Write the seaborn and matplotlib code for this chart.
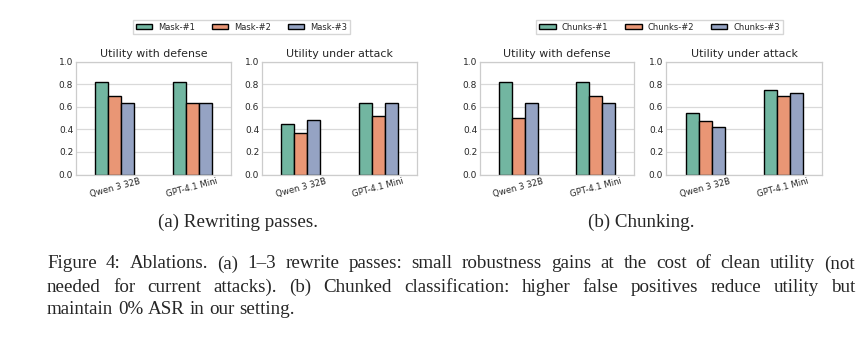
import matplotlib
matplotlib.use("Agg")
import matplotlib.pyplot as plt
import seaborn as sns
import pandas as pd
from matplotlib.patches import Patch

# ---------------- data ----------------
models = ["Qwen 3 32B", "GPT-4.1 Mini"]
mask_labels = ["Mask-#1", "Mask-#2", "Mask-#3"]
chunk_labels = ["Chunks-#1", "Chunks-#2", "Chunks-#3"]

# values per variant (#1, #2, #3), each over models
mask_defense = [[0.815, 0.815], [0.691, 0.630], [0.630, 0.630]]
mask_attack = [[0.444, 0.630], [0.370, 0.519], [0.481, 0.630]]
chunk_defense = [[0.815, 0.815], [0.500, 0.691], [0.630, 0.630]]
chunk_attack = [[0.548, 0.745], [0.472, 0.691], [0.417, 0.718]]

titles = ["Utility with defense", "Utility under attack"]
yticks = [0.0, 0.2, 0.4, 0.6, 0.8, 1.0]
subcaptions = ["(a) Rewriting passes.", "(b) Chunking."]
caption_lines = [
    "Figure 4: Ablations. (a) 1\u20133 rewrite passes: small robustness gains at the cost of clean utility (not",
    "needed for current attacks). (b) Chunked classification: higher false positives reduce utility but",
    "maintain 0% ASR in our setting.",
]


def to_df(values, labels):
    rows = []
    for lab, vals in zip(labels, values):
        for m, v in zip(models, vals):
            rows.append({"model": m, "variant": lab, "value": v})
    return pd.DataFrame(rows)


sns.set_theme(style="whitegrid")
plt.rcParams.update({
    "font.family": ["DejaVu Sans"],
    "axes.edgecolor": "0.8",
    "axes.linewidth": 0.9,
    "grid.linewidth": 0.9,
    "grid.color": "0.85",
})

W, H = 868, 339
fig = plt.figure(figsize=(W / 100, H / 100), dpi=100)
palette = sns.color_palette("Set2", 3)

ax_px = [(76, 155), (262, 155), (480, 154), (666, 156)]
top_px, bot_px = 61.5, 174.5
panels = [
    (mask_defense, mask_labels, titles[0]),
    (mask_attack, mask_labels, titles[1]),
    (chunk_defense, chunk_labels, titles[0]),
    (chunk_attack, chunk_labels, titles[1]),
]

for (x0, w), (vals, labs, title) in zip(ax_px, panels):
    ax = fig.add_axes([x0 / W, (H - bot_px) / H, w / W, (bot_px - top_px) / H])
    df = to_df(vals, labs)
    sns.barplot(data=df, x="model", y="value", hue="variant", palette=palette,
                width=0.5, edgecolor="black", linewidth=1.0, ax=ax, legend=False)
    ax.set_ylim(0, 1.0)
    ax.set_yticks(yticks)
    ax.set_yticklabels([f"{t:.1f}" for t in yticks])
    ax.set_xlabel("")
    ax.set_ylabel("")
    ax.set_title(title, fontsize=7.9, pad=3.5, color="0.15")
    ax.tick_params(axis="y", labelsize=6.5, pad=2, length=0, colors="0.15")
    ax.tick_params(axis="x", labelsize=6.1, pad=1.5, length=0, colors="0.15")
    for lbl in ax.get_xticklabels():
        lbl.set_rotation(15)
        lbl.set_ha("center")

for labs, cx in [(mask_labels, 241.5), (chunk_labels, 659.5)]:
    handles = [Patch(facecolor=sns.desaturate(c, 0.75), edgecolor="black", linewidth=1.0)
               for c in palette]
    fig.legend(handles, labs, loc="center", bbox_to_anchor=(cx / W, (H - 27) / H),
               ncol=3, fontsize=6.0, frameon=True, handlelength=2.0, handleheight=0.6,
               handletextpad=0.7, columnspacing=2.0, borderpad=0.35,
               fancybox=False, edgecolor="0.8")

serif = ["Liberation Serif", "DejaVu Serif"]
fs = 13.7
fig.text(238 / W, (H - 222) / H, subcaptions[0], ha="center", va="center",
         fontsize=fs, family=serif)
fig.text(641 / W, (H - 222) / H, subcaptions[1], ha="center", va="center",
         fontsize=fs, family=serif)

# justified caption
left_px, right_px = 47, 855
line_y = [264, 287, 309]
renderer = fig.canvas.get_renderer()
t1 = fig.text(0, 0, "a a", fontsize=fs, family=serif)
t2 = fig.text(0, 0, "aa", fontsize=fs, family=serif)
nat_space = t1.get_window_extent(renderer).width - t2.get_window_extent(renderer).width
t1.remove()
t2.remove()
for i, (line, yy) in enumerate(zip(caption_lines, line_y)):
    words = line.split(" ")
    texts = [fig.text(0, (H - yy) / H, wd, ha="left", va="center", fontsize=fs,
                      family=serif) for wd in words]
    widths = [t.get_window_extent(renderer).width for t in texts]
    if i < len(caption_lines) - 1:
        gap = (right_px - left_px - sum(widths)) / (len(words) - 1)
    else:
        gap = nat_space
    x = left_px
    for t, wdt in zip(texts, widths):
        t.set_x(x / W)
        x += wdt + gap

fig.savefig("out.png", dpi=100)
